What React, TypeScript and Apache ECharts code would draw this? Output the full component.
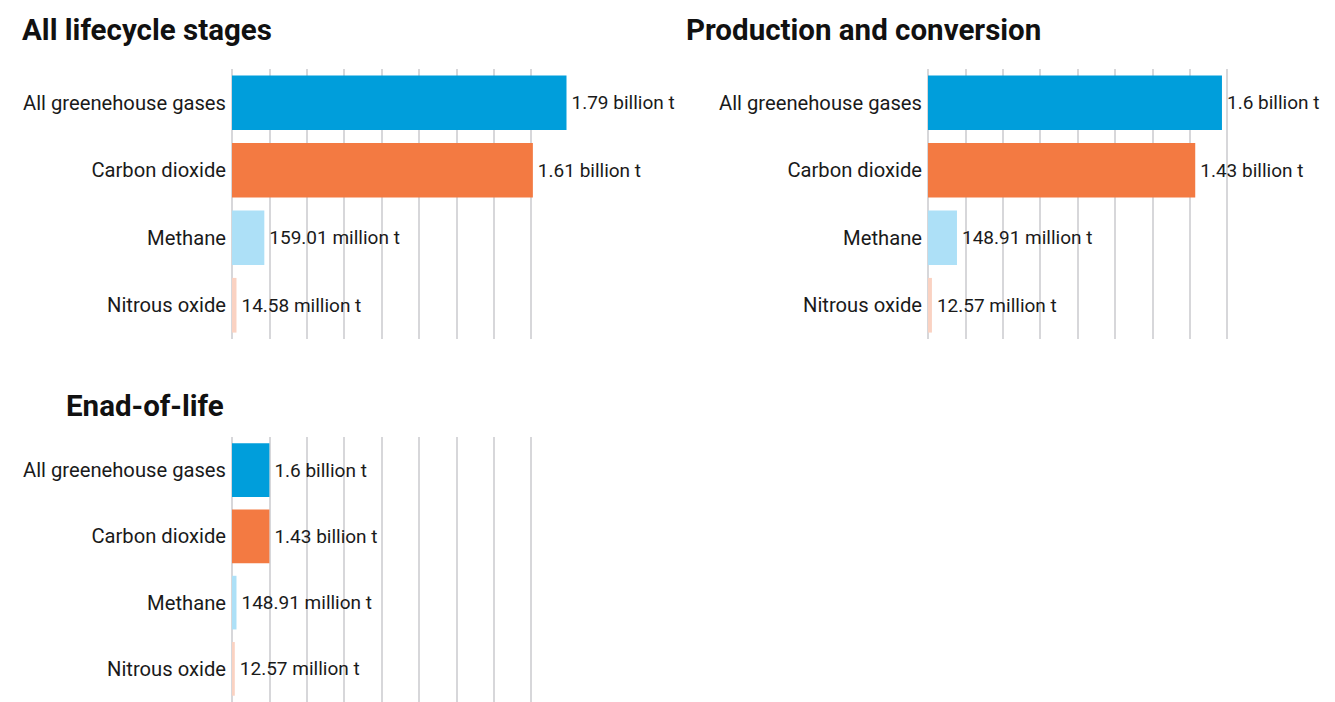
import React, { useEffect, useRef } from "react";
import * as echarts from "echarts";

const categories = ["All greenehouse gases", "Carbon dioxide", "Methane", "Nitrous oxide"];
const barColors = ["#009edb", "#f37a42", "#ade0f7", "#fad2c2"];

const panelTitles = ["All lifecycle stages", "Production and conversion", "Enad-of-life"];

// bar lengths (billion t)
const lifecycleValues = [1.79, 1.61, 0.173, 0.024];
const productionValues = [1.573, 1.43, 0.155, 0.021];
const endOfLifeValues = [0.2, 0.2, 0.024, 0.015];

// printed value labels
const lifecycleLabels = ["1.79 billion t", "1.61 billion t", "159.01 million t", "14.58 million t"];
const productionLabels = ["1.6 billion t", "1.43 billion t", "148.91 million t", "12.57 million t"];
const endOfLifeLabels = ["1.6 billion t", "1.43 billion t", "148.91 million t", "12.57 million t"];

const axisMax = 1.6;
const axisStep = 0.2;

const FONT = "Roboto, 'Noto Sans', sans-serif";

export default function App() {
  const ref = useRef<HTMLDivElement>(null);
  useEffect(() => {
    document.body.style.margin = "0";
    if (!ref.current) return;
    const chart = echarts.init(ref.current, undefined, { renderer: "svg" });
    const grids = [
      { left: 232, top: 69, width: 299, height: 270 },
      { left: 928, top: 69, width: 299, height: 270 },
      { left: 232, top: 437, width: 299, height: 270 },
    ];
    const valueSets = [lifecycleValues, productionValues, endOfLifeValues];
    const labelSets = [lifecycleLabels, productionLabels, endOfLifeLabels];
    const titlePos = [
      { x: 22, y: 30 },
      { x: 686, y: 30 },
      { x: 66, y: 406 },
    ];
    chart.setOption({
      animation: false,
      grid: grids,
      xAxis: grids.map((_, i) => ({
        type: "value",
        gridIndex: i,
        min: 0,
        max: axisMax,
        interval: axisStep,
        axisLabel: { show: false },
        axisLine: { show: false },
        axisTick: { show: false },
        splitLine: { show: true, lineStyle: { color: "#d7d7da", width: 2 } },
      })),
      yAxis: grids.map((_, i) => ({
        type: "category",
        gridIndex: i,
        data: categories,
        inverse: true,
        axisLine: { show: false },
        axisTick: { show: false },
        axisLabel: { margin: 6, fontSize: 20.2, color: "#1a1a1a", fontFamily: FONT },
      })),
      series: valueSets.map((vals, i) => ({
        type: "bar",
        xAxisIndex: i,
        yAxisIndex: i,
        clip: false,
        barCategoryGap: "19%",
        data: vals.map((v, j) => ({ value: v, itemStyle: { color: barColors[j] } })),
        label: {
          show: true,
          position: "right",
          distance: 5,
          fontSize: 19,
          color: "#1a1a1a",
          fontFamily: FONT,
          formatter: (p: any) => labelSets[i][p.dataIndex],
        },
      })),
      graphic: panelTitles.map((t, i) => ({
        type: "text",
        x: titlePos[i].x,
        y: titlePos[i].y,
        style: {
          text: t,
          fontSize: 29.5,
          fontWeight: "bold",
          fontFamily: FONT,
          fill: "#111",
          textVerticalAlign: "middle",
        },
      })),
    });
    return () => chart.dispose();
  }, []);
  return <div ref={ref} style={{ width: 1335, height: 702 }} />;
}
